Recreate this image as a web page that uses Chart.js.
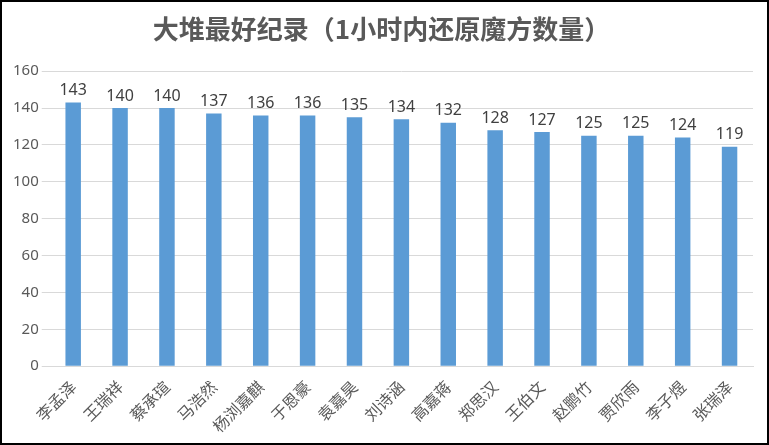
<!DOCTYPE html>
<html><head><meta charset="utf-8">
<script src="https://cdn.jsdelivr.net/npm/chart.js@4"></script>
<style>html,body{margin:0;padding:0;background:#fff}#w{width:765px;height:441px;border:2px solid #000;position:relative}</style>
</head><body><div id="w"><canvas id="c"></canvas></div>
<script>
const names=["李孟泽","王瑞祥","蔡承瑄","马浩然","杨浏嘉麒","于恩豪","袁嘉昊","刘诗涵","高嘉蒋","郑思汉","王伯文","赵鹏竹","贾欣雨","李子煜","张瑞泽"];
const scores=[143,140,140,137,136,136,135,134,132,128,127,125,125,124,119];
const labelsPlugin={id:'vl',afterDatasetsDraw(ch){const ctx=ch.ctx;const m=ch.getDatasetMeta(0);ctx.save();ctx.font='16px "Noto Sans", sans-serif';ctx.fillStyle='#404040';ctx.textAlign='center';ctx.textBaseline='bottom';m.data.forEach((b,i)=>ctx.fillText(scores[i],b.x,b.y-4));ctx.restore();}};
new Chart(document.getElementById('c'),{type:'bar',data:{labels:names,datasets:[{data:scores,backgroundColor:'#5b9bd5',categoryPercentage:1,barPercentage:0.33}]},
options:{responsive:true,maintainAspectRatio:false,animation:false,
layout:{padding:{left:8,right:14,top:0,bottom:4}},
plugins:{legend:{display:false},tooltip:{enabled:false},title:{display:true,text:'大堆最好纪录（1小时内还原魔方数量）',color:'#595959',font:{family:'"Noto Sans CJK SC"',size:26,weight:'bold'},padding:{top:12,bottom:26}}},
scales:{x:{grid:{display:false},border:{color:'#d9d9d9'},ticks:{color:'#595959',minRotation:45,maxRotation:45,font:{family:'"Noto Sans CJK SC"',size:16}}},
y:{min:0,max:160,ticks:{stepSize:20,color:'#595959',font:{size:15,family:'"Noto Sans", sans-serif'}},grid:{color:'#d9d9d9'},border:{display:false}}}},plugins:[labelsPlugin]});
</script></body></html>
